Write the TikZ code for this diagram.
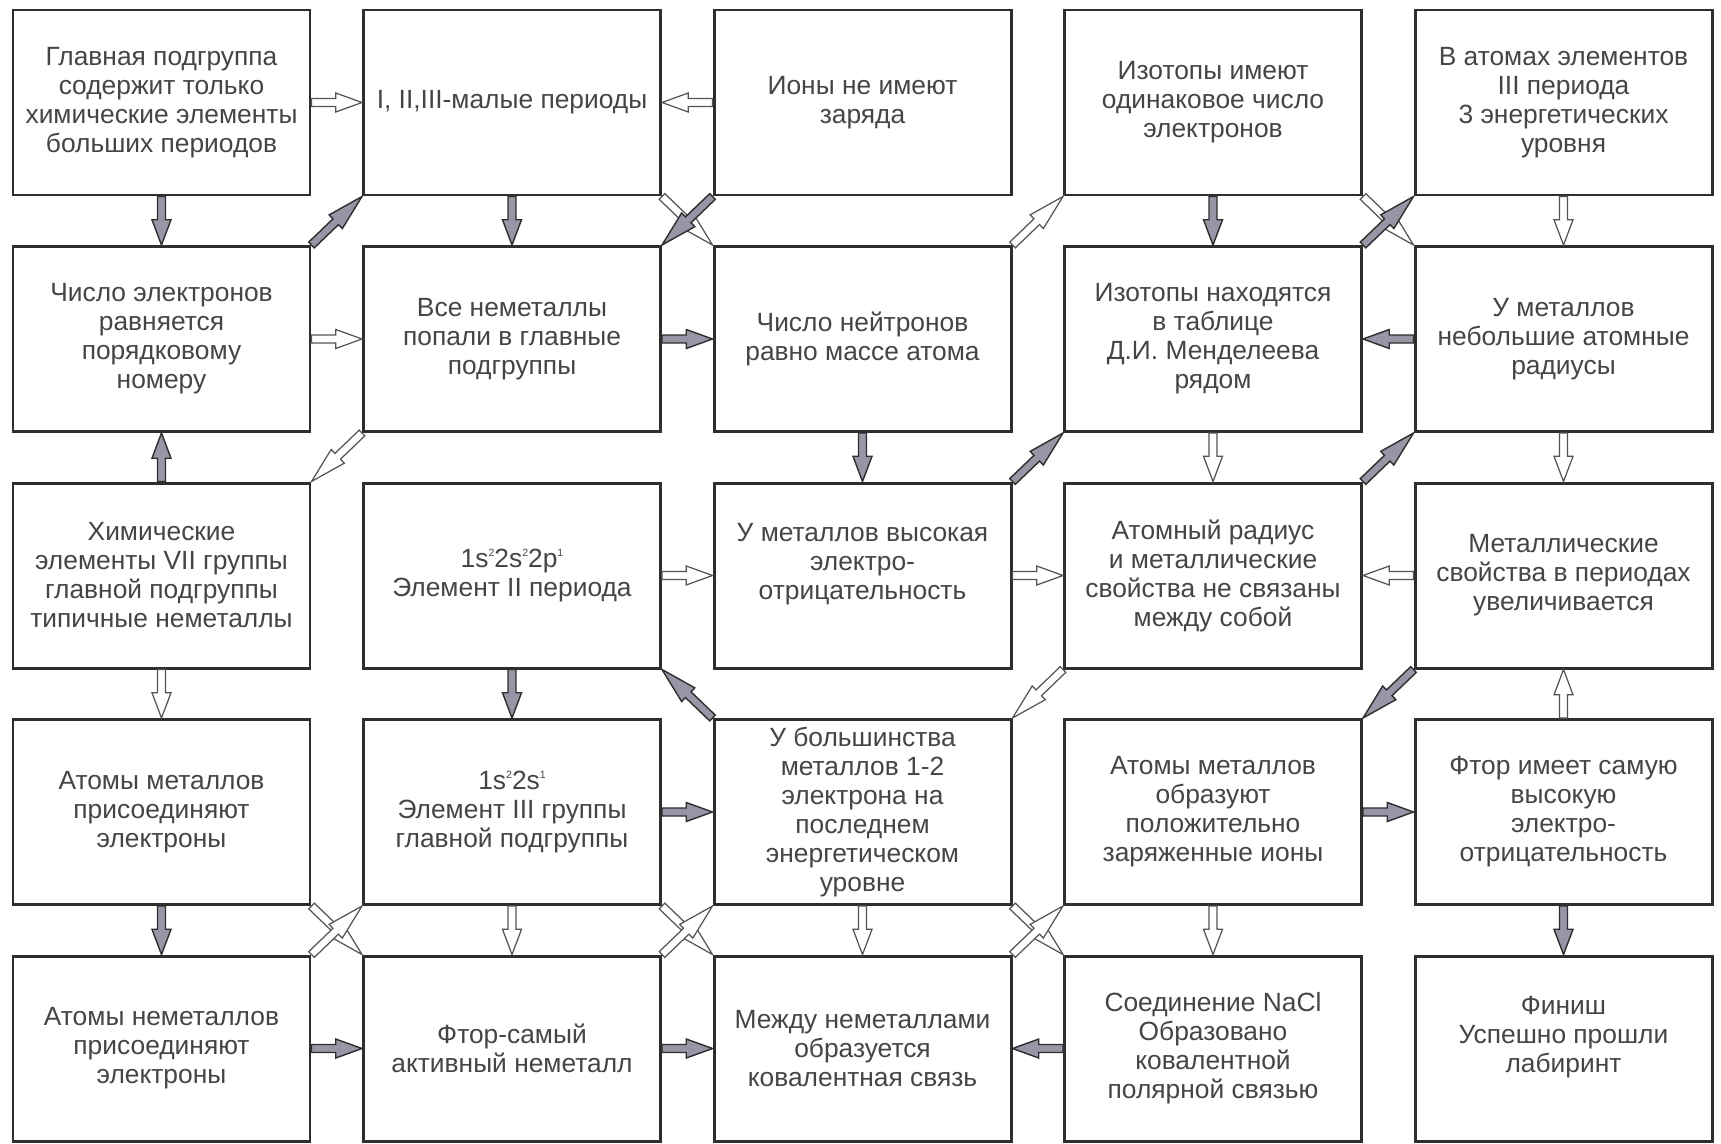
\documentclass[tikz,border=0pt]{standalone}
\usepackage{fontspec}
\setmainfont{Liberation Sans}
\usetikzlibrary{calc}
\definecolor{boxgray}{rgb}{0.18,0.18,0.18}
\definecolor{textgray}{rgb}{0.27,0.27,0.27}
\definecolor{arrgray}{rgb}{0.33,0.33,0.33}
\definecolor{darkfill}{rgb}{0.60,0.58,0.65}
\newcommand\upidx[1]{\raisebox{0.8ex}{\fontsize{6}{6}\selectfont #1}}

\begin{document}
\begin{tikzpicture}[
  box/.style={draw=boxgray, line width=1.7pt, minimum width=5.94cm, minimum height=3.7cm,
    inner sep=0pt, align=center, text=textgray, font=\fontsize{15}{16.5}\selectfont},
  blockarrow/.style={to path={let \p1=(\tikztostart), \p2=(\tikztotarget),
      \n1={atan2(\y2-\y1,\x2-\x1)} in
    ($(\p1)+(\n1+90:0.08)$) -- ($(\p1)!0.48!(\p2)+(\n1+90:0.08)$)
    -- ($(\p1)!0.48!(\p2)+(\n1+90:0.19)$) -- (\p2)
    -- ($(\p1)!0.48!(\p2)+(\n1-90:0.19)$) -- ($(\p1)!0.48!(\p2)+(\n1-90:0.08)$)
    -- ($(\p1)+(\n1-90:0.08)$) -- cycle}},
  hollowarr/.style={blockarrow, draw=arrgray, line width=0.7pt, fill=white},
  darkarr/.style={blockarrow, draw=boxgray, line width=0.8pt, fill=darkfill}]
\def\xs{7.01}
\def\ys{4.73}
\path[fill=white] (0,0) rectangle (34.42,-22.86);
\useasboundingbox (0,0) rectangle (34.42,-22.86);
\begin{scope}[shift={(-3.78,2.68)}]
% row 1
\node[box] (11) at (1*\xs,-1*\ys) {Главная подгруппа\\содержит только\\химические элементы\\больших периодов};
\node[box] (21) at (2*\xs,-1*\ys) {I, II,III-малые периоды};
\node[box] (31) at (3*\xs,-1*\ys) {Ионы не имеют\\заряда};
\node[box] (41) at (4*\xs,-1*\ys) {Изотопы имеют\\одинаковое число\\электронов};
\node[box] (51) at (5*\xs,-1*\ys) {В атомах элементов\\III периода\\3 энергетических\\уровня};
% row 2
\node[box] (12) at (1*\xs,-2*\ys) {Число электронов\\равняется\\порядковому\\номеру};
\node[box] (22) at (2*\xs,-2*\ys) {Все неметаллы\\попали в главные\\подгруппы};
\node[box] (32) at (3*\xs,-2*\ys) {Число нейтронов\\равно массе атома};
\node[box] (42) at (4*\xs,-2*\ys) {Изотопы находятся\\в таблице\\Д.И. Менделеева\\рядом};
\node[box] (52) at (5*\xs,-2*\ys) {У металлов\\небольшие атомные\\радиусы};
% row 3
\node[box] (13) at (1*\xs,-3*\ys) {Химические\\элементы VII группы\\главной подгруппы\\типичные неметаллы};
\node[box] (23) at (2*\xs,-3*\ys) {1s\upidx{2}2s\upidx{2}2p\upidx{1}\\Элемент II периода};
\node[box] (33) at (3*\xs,-3*\ys) {У металлов высокая\\электро-\\отрицательность\\\mbox{}};
\node[box] (43) at (4*\xs,-3*\ys) {Атомный радиус\\и металлические\\свойства не связаны\\между собой};
\node[box] (53) at (5*\xs,-3*\ys) {Металлические\\свойства в периодах\\увеличивается};
% row 4
\node[box] (14) at (1*\xs,-4*\ys) {Атомы металлов\\присоединяют\\электроны};
\node[box] (24) at (2*\xs,-4*\ys) {1s\upidx{2}2s\upidx{1}\\Элемент III группы\\главной подгруппы};
\node[box] (34) at (3*\xs,-4*\ys) {У большинства\\металлов 1-2\\электрона на\\последнем\\энергетическом\\уровне};
\node[box] (44) at (4*\xs,-4*\ys) {Атомы металлов\\образуют\\положительно\\заряженные ионы};
\node[box] (54) at (5*\xs,-4*\ys) {Фтор имеет самую\\высокую\\электро-\\отрицательность};
% row 5
\node[box] (15) at (1*\xs,-5*\ys) {Атомы неметаллов\\присоединяют\\электроны};
\node[box] (25) at (2*\xs,-5*\ys) {Фтор-самый\\активный неметалл};
\node[box] (35) at (3*\xs,-5*\ys) {Между неметаллами\\образуется\\ковалентная связь};
\node[box] (45) at (4*\xs,-5*\ys) {Соединение NaCl\\Образовано\\ковалентной\\полярной связью};
\node[box] (55) at (5*\xs,-5*\ys) {Финиш\\Успешно прошли\\лабиринт\\\mbox{}};
\end{scope}
% white arrows
\draw[hollowarr] (11.east) to (21.west);
\draw[hollowarr] (31.west) to (21.east);
\draw[hollowarr] (12.east) to (22.west);
\draw[hollowarr] (21.south east) to (32.north west);
\draw[hollowarr] (32.north east) to (41.south west);
\draw[hollowarr] (51.south) to (52.north);
\draw[hollowarr] (41.south east) to (52.north west);
\draw[hollowarr] (22.south west) to (13.north east);
\draw[hollowarr] (42.south) to (43.north);
\draw[hollowarr] (52.south) to (53.north);
\draw[hollowarr] (23.east) to (33.west);
\draw[hollowarr] (33.east) to (43.west);
\draw[hollowarr] (53.west) to (43.east);
\draw[hollowarr] (13.south) to (14.north);
\draw[hollowarr] (43.south west) to (34.north east);
\draw[hollowarr] (54.north) to (53.south);
\draw[hollowarr] (24.south) to (25.north);
\draw[hollowarr] (34.south) to (35.north);
\draw[hollowarr] (44.south) to (45.north);
\draw[hollowarr] (14.south east) to (25.north west);
\draw[hollowarr] (15.north east) to (24.south west);
\draw[hollowarr] (24.south east) to (35.north west);
\draw[hollowarr] (25.north east) to (34.south west);
\draw[hollowarr] (34.south east) to (45.north west);
\draw[hollowarr] (35.north east) to (44.south west);
% grey arrows
\draw[darkarr] (11.south) to (12.north);
\draw[darkarr] (21.south) to (22.north);
\draw[darkarr] (22.east) to (32.west);
\draw[darkarr] (12.north east) to (21.south west);
\draw[darkarr] (31.south west) to (22.north east);
\draw[darkarr] (41.south) to (42.north);
\draw[darkarr] (42.north east) to (51.south west);
\draw[darkarr] (52.west) to (42.east);
\draw[darkarr] (13.north) to (12.south);
\draw[darkarr] (32.south) to (33.north);
\draw[darkarr] (33.north east) to (42.south west);
\draw[darkarr] (43.north east) to (52.south west);
\draw[darkarr] (23.south) to (24.north);
\draw[darkarr] (34.north west) to (23.south east);
\draw[darkarr] (53.south west) to (44.north east);
\draw[darkarr] (24.east) to (34.west);
\draw[darkarr] (44.east) to (54.west);
\draw[darkarr] (14.south) to (15.north);
\draw[darkarr] (54.south) to (55.north);
\draw[darkarr] (15.east) to (25.west);
\draw[darkarr] (25.east) to (35.west);
\draw[darkarr] (45.west) to (35.east);
\end{tikzpicture}
\end{document}
